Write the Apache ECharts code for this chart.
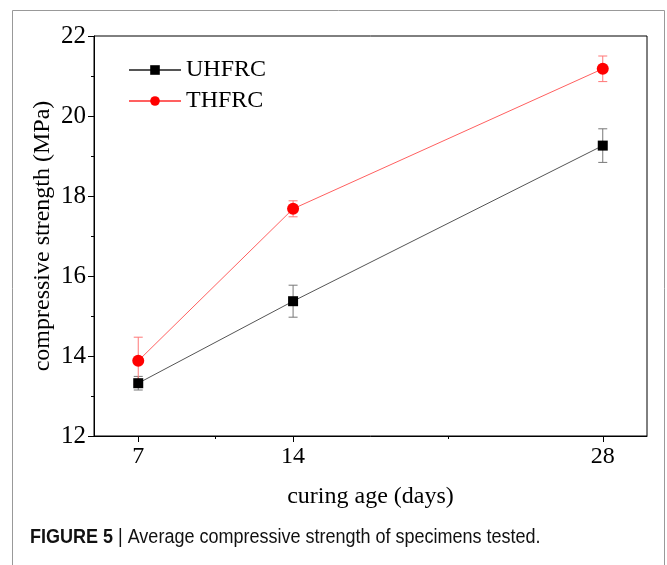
<!DOCTYPE html>
<html>
<head>
<meta charset="utf-8">
<script src="https://cdn.jsdelivr.net/npm/echarts@6/dist/echarts.min.js"></script>
<style>html,body{margin:0;padding:0;background:#fff;}#c{width:667px;height:565px;}</style>
</head>
<body>
<div id="c"></div>
<script>
var curingDays = [7, 14, 28];
var xTickLabels = [7, 14, 28];
var xMinorTicks = [10.5, 21];
var uhfrcMean = [13.32, 15.37, 19.26];
var uhfrcErr = [0.17, 0.40, 0.42];
var thfrcMean = [13.88, 17.68, 21.18];
var thfrcErr = [0.59, 0.20, 0.32];

var serif = '"Liberation Serif", "Times New Roman", serif';
var sans = '"Liberation Sans", Arial, sans-serif';
var chart = echarts.init(document.getElementById('c'));

function pairs(xs, ys) { return xs.map(function (x, i) { return [x, ys[i]]; }); }
function errData(xs, m, e) { return xs.map(function (x, i) { return [x, m[i] - e[i], m[i] + e[i]]; }); }
function errRender(color) {
  return function (params, api) {
    var lo = api.coord([api.value(0), api.value(1)]);
    var hi = api.coord([api.value(0), api.value(2)]);
    var w = 4.5;
    var st = { stroke: color, lineWidth: 1 };
    return { type: 'group', children: [
      { type: 'line', shape: { x1: lo[0], y1: lo[1], x2: hi[0], y2: hi[1] }, style: st },
      { type: 'line', shape: { x1: lo[0] - w, y1: lo[1], x2: lo[0] + w, y2: lo[1] }, style: st },
      { type: 'line', shape: { x1: hi[0] - w, y1: hi[1], x2: hi[0] + w, y2: hi[1] }, style: st }
    ]};
  };
}

chart.setOption({
  animation: false,
  backgroundColor: '#fff',
  grid: { left: 94, right: 20, top: 36, bottom: 129, show: true, borderColor: '#000', borderWidth: 1, backgroundColor: 'transparent' },
  legend: {
    orient: 'vertical', left: 123, top: 53, itemWidth: 52, itemHeight: 12, itemGap: 7,
    textStyle: { fontFamily: serif, fontSize: 24, color: '#000' },
    data: ['UHFRC', 'THFRC']
  },
  xAxis: [{
    type: 'value', min: 5, max: 30,
    name: 'curing age (days)', nameLocation: 'middle', nameGap: 49, nameMoveOverlap: false,
    nameTextStyle: { fontFamily: serif, fontSize: 24, color: '#000' },
    axisLine: { show: true, lineStyle: { color: '#000', width: 1 } },
    axisTick: { show: true, length: 6, customValues: xTickLabels, lineStyle: { color: '#000' } },
    axisLabel: { customValues: xTickLabels, fontFamily: serif, fontSize: 24, color: '#000', margin: 9 },
    splitLine: { show: false }
  }, {
    type: 'value', min: 5, max: 30, position: 'bottom',
    axisLine: { show: false },
    axisTick: { show: true, length: 3, customValues: xMinorTicks, lineStyle: { color: '#000' } },
    axisLabel: { show: false },
    splitLine: { show: false }
  }],
  yAxis: {
    type: 'value', min: 12, max: 22, interval: 2,
    name: 'compressive strength (MPa)', nameLocation: 'middle', nameGap: 39, nameMoveOverlap: false,
    nameTextStyle: { fontFamily: serif, fontSize: 24, color: '#000' },
    axisLine: { show: true, lineStyle: { color: '#000', width: 1 } },
    axisTick: { show: true, length: 6, lineStyle: { color: '#000' } },
    minorTick: { show: true, splitNumber: 2, length: 3, lineStyle: { color: '#000' } },
    axisLabel: { fontFamily: serif, fontSize: 25, color: '#000', margin: 8 },
    splitLine: { show: false }
  },
  series: [
    { type: 'custom', name: 'uErr', xAxisIndex: 0, renderItem: errRender('#777'), data: errData(curingDays, uhfrcMean, uhfrcErr), z: 1, silent: true },
    { type: 'custom', name: 'tErr', xAxisIndex: 0, renderItem: errRender('#f77'), data: errData(curingDays, thfrcMean, thfrcErr), z: 1, silent: true },
    { type: 'line', name: 'UHFRC', data: pairs(curingDays, uhfrcMean), symbol: 'rect', symbolSize: 10,
      itemStyle: { color: '#000' }, lineStyle: { color: '#555', width: 1 }, z: 3 },
    { type: 'line', name: 'THFRC', data: pairs(curingDays, thfrcMean), symbol: 'circle', symbolSize: 12,
      itemStyle: { color: '#ff0000' }, lineStyle: { color: '#ff6060', width: 1 }, z: 4 }
  ],
  graphic: [
    { type: 'rect', shape: { x: 12.5, y: 10.5, width: 652, height: 600 }, style: { fill: 'none', stroke: '#999', lineWidth: 1 }, silent: true, z: -1 },
    { type: 'text', x: 30, y: 537, scaleX: 0.9, style: {
        text: '{b|FIGURE 5} | Average compressive strength of specimens tested.',
        fontFamily: sans, fontSize: 20, fill: '#111', verticalAlign: 'middle',
        rich: { b: { fontWeight: 'bold', fontFamily: sans, fontSize: 20, fill: '#111' } }
      } }
  ]
});
</script>
</body>
</html>
